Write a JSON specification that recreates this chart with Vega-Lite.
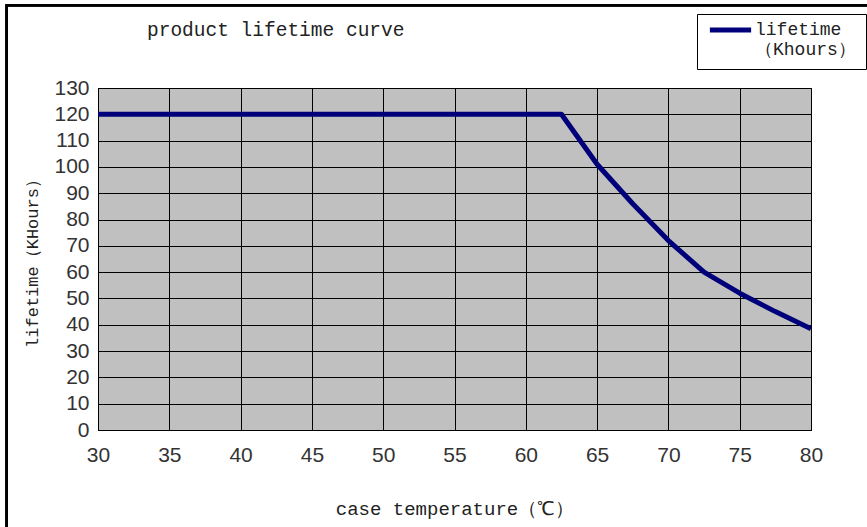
{
  "$schema": "https://vega.github.io/schema/vega-lite/v6.json",
  "width": 713,
  "height": 342,
  "autosize": {"type": "none"},
  "padding": {"left": 98, "top": 88, "right": 56, "bottom": 97},
  "background": "white",
  "title": {
    "text": "product lifetime curve",
    "anchor": "start",
    "frame": "group",
    "dx": 49,
    "offset": -36,
    "font": "Liberation Mono",
    "fontSize": 19.5,
    "fontWeight": "normal",
    "color": "#222"
  },
  "data": {
    "values": [
      {"temp": 30, "life": 120, "series": "lifetime"},
      {"temp": 62.5, "life": 120, "series": "lifetime"},
      {"temp": 65, "life": 101, "series": "lifetime"},
      {"temp": 67.5, "life": 86, "series": "lifetime"},
      {"temp": 70, "life": 72, "series": "lifetime"},
      {"temp": 72.5, "life": 60, "series": "lifetime"},
      {"temp": 75, "life": 52, "series": "lifetime"},
      {"temp": 77.5, "life": 45, "series": "lifetime"},
      {"temp": 80, "life": 38.5, "series": "lifetime"}
    ]
  },
  "layer": [
    {
      "mark": {"type": "line", "strokeWidth": 5, "strokeJoin": "round", "clip": true},
      "encoding": {
        "x": {
          "field": "temp",
          "type": "quantitative",
          "scale": {"domain": [30, 80], "nice": false, "zero": false},
          "axis": {
            "values": [30, 35, 40, 45, 50, 55, 60, 65, 70, 75, 80],
            "title": "case temperature（℃）",
            "titleFont": "Liberation Mono",
            "titleFontSize": 19,
            "titleFontWeight": "normal",
            "titleColor": "#222",
            "titlePadding": 34,
            "labelFont": "Liberation Sans",
            "labelFontSize": 21,
            "labelColor": "#333",
            "labelPadding": 14,
            "labelFlush": false,
            "labelOverlap": false,
            "ticks": false,
            "domainColor": "black",
            "gridColor": "black",
            "gridOpacity": 1,
            "gridWidth": 1
          }
        },
        "y": {
          "field": "life",
          "type": "quantitative",
          "scale": {"domain": [0, 130], "nice": false, "zero": false},
          "axis": {
            "values": [0, 10, 20, 30, 40, 50, 60, 70, 80, 90, 100, 110, 120, 130],
            "title": "lifetime（KHours）",
            "titleFont": "Liberation Mono",
            "titleFontSize": 17,
            "titleFontWeight": "normal",
            "titleColor": "#222",
            "titlePadding": 12,
            "labelFont": "Liberation Sans",
            "labelFontSize": 21,
            "labelColor": "#333",
            "labelPadding": 9,
            "labelOverlap": false,
            "ticks": false,
            "domainColor": "black",
            "gridColor": "black",
            "gridOpacity": 1,
            "gridWidth": 1
          }
        },
        "color": {
          "field": "series",
          "type": "nominal",
          "scale": {"range": ["#00007a"]},
          "legend": {
            "title": null,
            "orient": "none",
            "legendX": 599,
            "legendY": -74,
            "strokeColor": "black",
            "fillColor": "white",
            "padding": 10,
            "clipHeight": 12,
            "symbolType": "stroke",
            "symbolStrokeWidth": 5,
            "symbolSize": 1700,
            "labelFont": "Liberation Mono",
            "labelFontSize": 18,
            "labelColor": "#222",
            "labelExpr": "['lifetime', '（Khours）']",
            "labelBaseline": "middle",
            "labelOffset": 1
          }
        }
      }
    },
    {
      "mark": {"type": "rect", "fill": null, "fillOpacity": 0, "stroke": "black", "strokeWidth": 2, "clip": false},
      "encoding": {
        "x": {
          "datum": 23.6,
          "type": "quantitative",
          "scale": {"domain": [30, 80], "nice": false, "zero": false},
          "axis": {
            "values": [30, 35, 40, 45, 50, 55, 60, 65, 70, 75, 80],
            "title": "case temperature（℃）",
            "titleFont": "Liberation Mono",
            "titleFontSize": 19,
            "titleFontWeight": "normal",
            "titleColor": "#222",
            "titlePadding": 34,
            "labelFont": "Liberation Sans",
            "labelFontSize": 21,
            "labelColor": "#333",
            "labelPadding": 14,
            "labelFlush": false,
            "labelOverlap": false,
            "ticks": false,
            "domainColor": "black",
            "gridColor": "black",
            "gridOpacity": 1,
            "gridWidth": 1
          }
        },
        "x2": {"datum": 200},
        "y": {
          "datum": 161.5,
          "type": "quantitative",
          "scale": {"domain": [0, 130], "nice": false, "zero": false},
          "axis": {
            "values": [0, 10, 20, 30, 40, 50, 60, 70, 80, 90, 100, 110, 120, 130],
            "title": "lifetime（KHours）",
            "titleFont": "Liberation Mono",
            "titleFontSize": 17,
            "titleFontWeight": "normal",
            "titleColor": "#222",
            "titlePadding": 12,
            "labelFont": "Liberation Sans",
            "labelFontSize": 21,
            "labelColor": "#333",
            "labelPadding": 9,
            "labelOverlap": false,
            "ticks": false,
            "domainColor": "black",
            "gridColor": "black",
            "gridOpacity": 1,
            "gridWidth": 1
          }
        },
        "y2": {"datum": -60}
      }
    }
  ],
  "config": {
    "view": {"fill": "#c0c0c0", "stroke": "black", "strokeWidth": 1}
  }
}
